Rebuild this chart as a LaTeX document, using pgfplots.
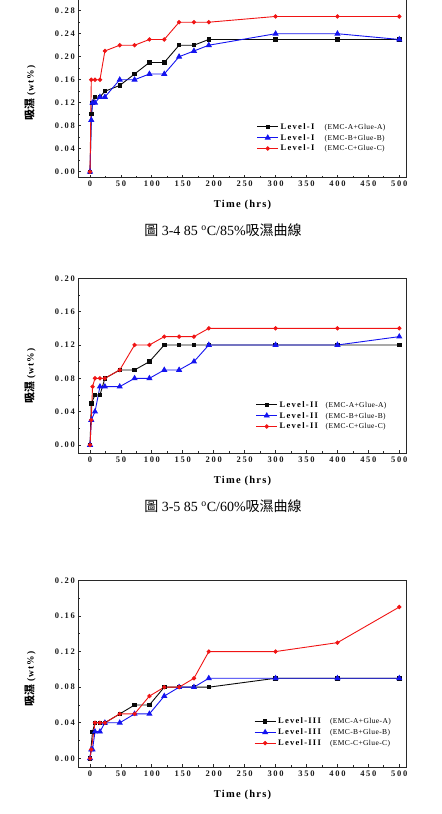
\documentclass[border=0pt]{standalone}
\usepackage{fontspec}
\usepackage{pgfplots}
\pgfplotsset{compat=1.18}
\setmainfont{Liberation Serif}
\newfontfamily\cjk{Noto Sans CJK TC}
\newfontfamily\spacedbf[LetterSpace=20,UprightFont=* Bold]{Liberation Serif}
\newfontfamily\lvlfont[LetterSpace=15,UprightFont=* Bold]{Liberation Serif}
\newfontfamily\titlefont[LetterSpace=12,UprightFont=* Bold]{Liberation Serif}
\newfontfamily\wtfont[LetterSpace=12,UprightFont=* Bold]{Liberation Serif}
\newfontfamily\emcfont[LetterSpace=5]{Liberation Serif}

\definecolor{frame}{RGB}{40,40,40}
\definecolor{cA}{RGB}{10,10,10}
\definecolor{cB}{RGB}{20,20,240}
\definecolor{cC}{RGB}{240,20,20}

\pgfplotsset{
  panel/.style={
    scale only axis, width=328.4bp,
    xmin=-19, xmax=512, ymin=-0.01,
    xtick={0,50,...,500}, minor x tick num=1, minor y tick num=1,
    tick align=inside, xtick pos=bottom, ytick pos=left,
    major tick length=3bp, minor tick length=2bp,
    axis line style={line width=1.3bp, frame},
    every tick/.style={frame, line width=0.8bp},
    tick label style={font=\spacedbf\fontsize{8.5bp}{9bp}\selectfont, text=black!90},
    /pgf/number format/assume math mode=true,
    y tick label style={/pgf/number format/.cd, fixed, fixed zerofill, precision=2, /tikz/.cd},
    x tick label style={/pgf/number format/.cd, fixed, precision=0, /tikz/.cd},
    xlabel={Time (hrs)},
    xlabel style={font=\titlefont\fontsize{10.5bp}{11bp}\selectfont, at={(axis description cs:0.5,0)}, anchor=center, yshift=-27.5bp},
    legend style={draw=none, fill=none, anchor=west, inner sep=0pt,
      row sep=3bp, font=\fontsize{8.5bp}{9bp}\selectfont,
      nodes={inner ysep=0pt, text height=6.3bp, text depth=1.5bp}},
    legend cell align=left,
    legend image code/.code={\draw[mark repeat=2,mark phase=2,##1] plot coordinates {(0bp,0bp) (10.5bp,0bp) (21bp,0bp)};},
  },
  sA/.style={cA, line width=0.9bp, mark=square*, mark size=1.7bp, mark options={solid}},
  sB/.style={cB, line width=0.9bp, mark=triangle*, mark size=2.7bp, mark options={solid}},
  sC/.style={cC, line width=0.9bp, mark=*, mark size=1.7bp, mark options={solid}},
}

\newcommand{\lvl}[2]{\makebox[#1][l]{\lvlfont #2}}
\newcommand{\emc}[1]{{\emcfont\fontsize{7.5bp}{8bp}\selectfont #1}}
\newcommand{\ylab}{{\cjk\bfseries\fontsize{11bp}{12bp}\selectfont 吸濕}\hspace{3bp}{\wtfont\fontsize{9.5bp}{10bp}\selectfont(wt\%)}}

\begin{document}
\begin{tikzpicture}[x=1bp, y=1bp]
\path[use as bounding box] (0,-814) rectangle (442,0);

% ---------- Level-I : 85 C / 85 % ----------
\begin{axis}[panel, at={(78.3bp,-177.5bp)}, anchor=south west,
  height=178.3bp, ymax=0.30,
  ytick={0,0.04,0.08,0.12,0.16,0.20,0.24,0.28},
  legend style={at={(rel axis cs:0.543,0.223)}}]
\addplot[sA] coordinates {(0,0) (2,0.10) (4,0.12) (8,0.13) (16,0.13) (24,0.14) (48,0.15) (72,0.17) (96,0.19) (120,0.19) (144,0.22) (168,0.22) (192,0.23) (300,0.23) (400,0.23) (500,0.23)};
\addlegendentry{\lvl{44bp}{Level-I}\emc{(EMC-A+Glue-A)}}
\addplot[sB] coordinates {(0,0) (2,0.09) (4,0.12) (8,0.12) (16,0.13) (24,0.13) (48,0.16) (72,0.16) (96,0.17) (120,0.17) (144,0.20) (168,0.21) (192,0.22) (300,0.24) (400,0.24) (500,0.23)};
\addlegendentry{\lvl{44bp}{Level-I}\emc{(EMC-B+Glue-B)}}
\addplot[sC] coordinates {(0,0) (2,0.16) (8,0.16) (16,0.16) (24,0.21) (48,0.22) (72,0.22) (96,0.23) (120,0.23) (144,0.26) (168,0.26) (192,0.26) (300,0.27) (400,0.27) (500,0.27)};
\addlegendentry{\lvl{44bp}{Level-I}\emc{(EMC-C+Glue-C)}}
\end{axis}
\node[rotate=90] at (30,-93) {\ylab};
\node at (223,-230) {\fontsize{14bp}{15bp}\selectfont{\cjk 圖} 3-4 85 \textsuperscript{o}C/85\%{\cjk 吸濕曲線}};

% ---------- Level-II : 85 C / 60 % ----------
\begin{axis}[panel, at={(78.3bp,-453.3bp)}, anchor=south west,
  height=175bp, ymax=0.20,
  ytick={0,0.04,0.08,0.12,0.16,0.20},
  legend style={at={(rel axis cs:0.54,0.215)}}]
\addplot[sA] coordinates {(0,0) (2,0.05) (8,0.06) (16,0.06) (24,0.08) (48,0.09) (72,0.09) (96,0.10) (120,0.12) (144,0.12) (168,0.12) (192,0.12) (300,0.12) (400,0.12) (500,0.12)};
\addlegendentry{\lvl{46bp}{Level-II}\emc{(EMC-A+Glue-A)}}
\addplot[sB] coordinates {(0,0) (2,0.03) (8,0.04) (16,0.07) (24,0.07) (48,0.07) (72,0.08) (96,0.08) (120,0.09) (144,0.09) (168,0.10) (192,0.12) (300,0.12) (400,0.12) (500,0.13)};
\addlegendentry{\lvl{46bp}{Level-II}\emc{(EMC-B+Glue-B)}}
\addplot[sC] coordinates {(0,0) (2,0.03) (4,0.07) (8,0.08) (16,0.08) (24,0.08) (48,0.09) (72,0.12) (96,0.12) (120,0.13) (144,0.13) (168,0.13) (192,0.14) (300,0.14) (400,0.14) (500,0.14)};
\addlegendentry{\lvl{46bp}{Level-II}\emc{(EMC-C+Glue-C)}}
\end{axis}
\node[rotate=90] at (30,-376) {\ylab};
\node at (223,-506) {\fontsize{14bp}{15bp}\selectfont{\cjk 圖} 3-5 85 \textsuperscript{o}C/60\%{\cjk 吸濕曲線}};

% ---------- Level-III ----------
\begin{axis}[panel, at={(78.3bp,-767.3bp)}, anchor=south west,
  height=187bp, ymax=0.20,
  ytick={0,0.04,0.08,0.12,0.16,0.20},
  legend style={at={(rel axis cs:0.535,0.187)}}]
\addplot[sA] coordinates {(0,0) (4,0.03) (8,0.04) (16,0.04) (24,0.04) (48,0.05) (72,0.06) (96,0.06) (120,0.08) (144,0.08) (168,0.08) (192,0.08) (300,0.09) (400,0.09) (500,0.09)};
\addlegendentry{\lvl{52bp}{Level-III}\emc{(EMC-A+Glue-A)}}
\addplot[sB] coordinates {(0,0) (2,0.01) (4,0.01) (8,0.03) (16,0.03) (24,0.04) (48,0.04) (72,0.05) (96,0.05) (120,0.07) (144,0.08) (168,0.08) (192,0.09) (300,0.09) (400,0.09) (500,0.09)};
\addlegendentry{\lvl{52bp}{Level-III}\emc{(EMC-B+Glue-B)}}
\addplot[sC] coordinates {(0,0) (2,0.01) (8,0.04) (16,0.04) (24,0.04) (48,0.05) (72,0.05) (96,0.07) (120,0.08) (144,0.08) (168,0.09) (192,0.12) (300,0.12) (400,0.13) (500,0.17)};
\addlegendentry{\lvl{52bp}{Level-III}\emc{(EMC-C+Glue-C)}}
\end{axis}
\node[rotate=90] at (30,-679) {\ylab};
\end{tikzpicture}
\end{document}
